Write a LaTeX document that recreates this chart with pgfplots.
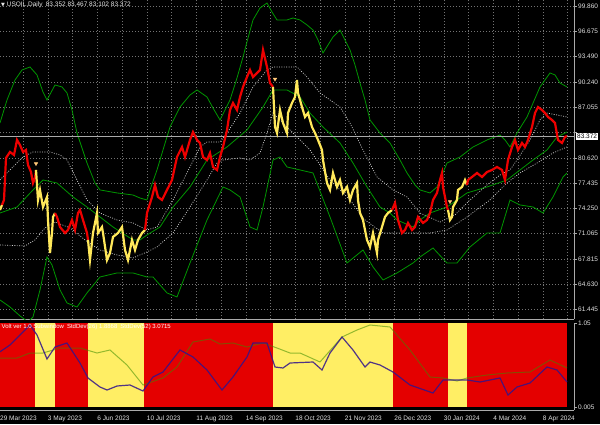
\documentclass[border=0pt]{standalone}
\usepackage{fontspec}
\setmainfont{Liberation Sans}
\newfontfamily\symfont{DejaVu Sans}
\usepackage{pgfplots}
\pgfplotsset{compat=1.18}

\definecolor{cred}{RGB}{238,0,0}
\definecolor{cyel}{RGB}{255,232,90}
\definecolor{bred}{RGB}{228,0,0}
\definecolor{byel}{RGB}{255,238,100}
\definecolor{bandg}{RGB}{0,150,0}
\definecolor{gridc}{RGB}{115,115,115}
\definecolor{axc}{RGB}{170,170,170}
\definecolor{sigc}{RGB}{255,200,120}
\definecolor{sblue}{RGB}{50,20,140}
\definecolor{sgreen}{RGB}{60,140,0}

\begin{document}
\begin{tikzpicture}[x=1pt,y=1pt]
\useasboundingbox (0,0) rectangle (600,424);
\fill[black] (0,0) rectangle (600,424);

% ---------- price window ----------
\begin{axis}[
    at={(0pt,105pt)}, anchor=south west,
    scale only axis, width=574pt, height=319pt,
    xmin=0, xmax=574, ymin=60.23, ymax=100.62,
    clip mode=individual,
    axis x line*=bottom, axis y line*=right,
    axis line style={-, draw=axc},
    xtick={23,47.75,...,568}, xticklabels={},
    xtick style={draw=none},
    ytick={61.445,64.630,67.815,71.065,74.250,77.435,80.620,83.870,87.055,90.240,93.490,96.675,99.860},
    yticklabels={61.445,64.630,67.815,71.065,74.250,77.435,80.620,,87.055,90.240,93.490,96.675,99.860},
    ytick style={draw=axc}, major tick length=2.5pt, tick align=outside,
    grid=major,
    major grid style={gridc, dash pattern=on 1pt off 2pt, line width=0.45pt},
    yticklabel style={font=\fontsize{6.5}{7}\selectfont, text=white!88!black, inner xsep=1.5pt},
    /pgf/number format/assume math mode=true,
]
% outer band (upper)
\addplot[bandg, line width=0.8pt] coordinates {
(0,85.05) (7,87.96) (15,90.49) (22,91.76) (30,92.14) (37,91.13) (43,88.97) (47,87.96)
(55,89.86) (62,89.61) (67,88.85) (72,86.69) (77,83.78) (87,79.98) (95,77.45) (100,76.57)
(117,76.19) (133,75.93) (140,75.55) (147,75.30) (150,76.57) (157,79.10) (163,81.63)
(170,84.54) (180,87.07) (190,88.59) (197,89.23) (207,88.34) (213,86.95) (220,85.43)
(225,86.69) (230,87.96) (237,90.75) (243,93.40) (248,95.81) (253,98.09) (260,99.61)
(267,100.24) (272,99.10) (277,98.09) (287,98.09) (293,98.34) (300,98.09) (307,97.46)
(313,96.82) (318,95.56) (323,93.91) (328,94.92) (333,95.94) (340,96.82) (345,95.56)
(350,94.29) (355,92.39) (360,90.11) (365,87.96) (370,85.43) (380,83.78) (390,82.52)
(400,80.36) (407,78.72) (415,77.20) (420,76.57) (430,76.19) (437,76.95) (447,79.98)
(460,80.74) (473,82.01) (487,82.90) (500,83.53) (505,82.90) (510,82.01) (517,83.78)
(527,85.81) (540,89.61) (550,91.38) (555,91.13) (560,90.11) (567,89.61)};
% middle line
\addplot[bandg, line width=0.8pt] coordinates {
(0,73.65) (17,74.41) (33,76.57) (43,77.83) (57,77.45) (73,75.68) (87,74.41) (100,73.15)
(113,71.88) (133,70.24) (140,70.24) (147,70.87) (160,71.88) (173,74.41) (190,76.95)
(207,80.36) (227,82.01) (247,84.16) (263,87.07) (273,89.23) (287,89.23) (300,88.34)
(310,86.31) (323,84.54) (340,82.52) (353,79.98) (367,76.95) (380,74.41) (390,73.65)
(397,72.77) (413,71.88) (420,72.77) (430,73.65) (447,74.41) (467,76.19) (487,76.95)
(507,77.83) (520,79.10) (533,80.36) (547,81.63) (557,83.28) (567,83.91)};
% outer band (lower)
\addplot[bandg, line width=0.8pt] coordinates {
(0,62.64) (10,61.75) (20,60.62) (28,59.86) (33,60.49) (40,63.91) (47,68.08) (52,67.07)
(60,63.91) (67,62.26) (77,61.75) (87,63.53) (100,65.55) (117,66.06) (133,66.06)
(147,65.55) (153,65.55) (167,63.53) (177,63.02) (190,67.32) (207,72.77) (223,76.95)
(230,76.57) (240,75.68) (250,71.88) (257,71.50) (263,74.41) (273,80.36) (280,80.74)
(287,79.48) (313,78.72) (330,73.15) (347,67.32) (363,68.97) (373,66.82) (383,65.17)
(397,66.06) (413,67.32) (420,68.08) (433,69.22) (447,67.32) (457,67.32) (470,69.35)
(487,71.12) (500,71.12) (510,75.30) (520,74.67) (533,74.41) (543,73.65) (553,75.68)
(563,78.21) (567,78.72)};
% inner dotted bands
\addplot[white!82!black, line width=0.7pt, dash pattern=on 0.9pt off 1.5pt] coordinates {
(0,77.83) (13,79.48) (23,80.74) (33,81.38) (50,81.38) (60,81.00) (67,80.36) (77,77.83)
(87,75.30) (100,73.65) (117,72.77) (133,72.39) (147,71.50) (157,71.88) (173,75.30)
(190,79.48) (200,82.01) (207,82.64) (220,82.64) (227,83.78) (240,86.31) (253,89.61)
(267,91.76) (273,92.14) (287,92.14) (297,92.14) (307,90.87) (320,88.85) (340,87.07)
(350,85.05) (363,81.63) (377,78.21) (393,76.57) (407,75.68) (420,73.65) (440,72.51)
(455,73.40) (470,75.30) (487,77.20) (500,78.46) (510,79.10) (517,80.36) (530,82.90)
(540,85.43) (547,86.31) (557,86.06) (567,85.81)};
\addplot[white!82!black, line width=0.7pt, dash pattern=on 0.9pt off 1.5pt] coordinates {
(0,69.60) (25,69.48) (35,70.24) (45,71.76) (55,72.51) (70,71.76) (85,70.24) (100,68.97)
(117,68.34) (133,67.96) (147,68.72) (157,69.35) (173,71.12) (190,74.41) (207,77.83)
(217,79.98) (223,80.36) (240,80.62) (250,80.36) (260,81.25) (267,83.78) (273,86.31)
(290,84.16) (310,81.63) (330,77.83) (350,75.30) (365,72.77) (383,71.12) (397,71.12)
(430,71.12) (447,71.50) (467,73.15) (490,75.30) (507,77.45) (520,78.72) (537,79.98)
(553,81.25) (567,82.01)};
% current price line
\addplot[axc, line width=0.5pt] coordinates {(0,83.372) (574,83.372)};
% price, coloured by regime
\addplot[cyel, line width=2.2pt] coordinates {(0,74.03) (2,74.67)};
\addplot[cred, line width=2.2pt] coordinates {
(2,74.67) (4,75.30) (6,80.62) (10,81.38) (14,81.00) (17,82.90) (20,82.26) (23,81.38)
(26,81.63) (28,79.73) (31,78.84) (33,77.45) (35,78.09) (36,79.10)};
\addplot[cyel, line width=2.2pt] coordinates {
(36,79.10) (38,75.30) (40,76.57) (43,74.41) (47,75.68) (48,72.77) (50,68.59) (52,71.12)
(53,73.15) (55,73.65)};
\addplot[cred, line width=2.2pt] coordinates {
(55,73.65) (57,73.15) (60,71.88) (65,71.12) (68,71.50) (72,72.77) (75,71.50) (78,73.65)
(80,74.03) (83,72.77) (87,71.12) (88,70.24)};
\addplot[cyel, line width=2.2pt] coordinates {
(88,70.24) (90,67.70) (93,71.12) (97,73.65) (98,71.12) (102,71.88) (103,71.12) (107,67.70)
(110,68.59) (113,70.62) (118,71.12) (122,71.88) (125,68.97) (128,67.70) (132,70.24)
(135,68.97) (138,70.24) (142,71.12) (145,71.50)};
\addplot[cred, line width=2.2pt] coordinates {
(145,71.50) (147,73.65) (152,75.68) (155,77.20) (158,75.68) (162,75.30) (167,76.57)
(172,77.83) (177,80.74) (182,82.01) (185,80.74) (190,82.90) (193,83.91) (197,82.90)
(200,82.52) (203,80.74) (207,80.36) (210,81.25) (213,79.48) (217,79.10) (220,80.74)
(223,82.01) (227,84.16) (230,86.69) (233,87.58) (237,86.69) (240,88.34) (243,89.61)
(247,90.87) (250,91.76) (253,90.87) (257,91.38) (260,91.76) (263,94.29) (267,92.14)
(270,90.11) (273,89.61)};
\addplot[cyel, line width=2.2pt] coordinates {
(273,89.61) (275,84.54) (277,83.78) (280,86.69) (283,85.05) (287,83.78) (288,86.31)
(292,87.58) (295,88.34) (297,90.49) (298,88.85) (302,87.07) (305,85.81) (308,86.31)
(312,84.54) (315,83.78) (318,82.90) (322,81.63) (323,80.36) (327,77.45) (330,76.57)
(333,78.72) (337,76.95) (340,77.83) (343,76.19) (347,76.95) (350,75.30) (353,76.57)
(357,77.45) (358,75.30) (360,73.65) (363,72.77) (367,70.24) (370,69.35) (373,71.12)
(377,68.59) (378,70.24) (382,71.88) (385,73.15) (388,73.65) (392,74.03)};
\addplot[cred, line width=2.2pt] coordinates {
(392,74.03) (395,74.92) (398,72.77) (402,71.12) (405,71.50) (408,72.39) (412,71.50)
(415,71.88) (418,73.15) (423,72.39) (427,72.77) (430,73.65) (433,75.30) (437,76.19)
(440,77.83) (442,78.72) (443,76.95) (445,75.68) (447,74.41) (448,74.03)};
\addplot[cyel, line width=2.2pt] coordinates {
(448,74.03) (450,72.77) (452,73.15) (453,74.41) (457,75.30) (458,76.57) (462,76.95)
(465,77.83) (467,77.20)};
\addplot[cred, line width=2.2pt] coordinates {
(467,77.20) (468,77.83) (472,78.21) (477,78.72) (482,78.21) (487,78.84) (492,79.10)
(497,79.48) (502,79.10) (505,77.83) (508,80.36) (512,82.01) (515,82.90) (518,81.63)
(522,82.52) (525,82.01) (528,82.90) (532,84.54) (535,86.31) (538,87.07) (542,86.69)
(545,86.31) (548,85.81) (552,85.43) (555,85.05) (558,82.90) (562,82.52) (565,83.28)
(567,83.40)};
% signal arrows
\addplot[only marks, mark=triangle*, mark size=2pt,
    mark options={rotate=180, fill=sigc, draw=sigc}] coordinates {
(36,79.90) (275,90.60) (450,75.10)};
\node[anchor=west, fill=white, text=black, inner sep=1pt,
    font=\fontsize{6.5}{7}\selectfont] at (axis cs:576,83.372) {83.372};
\end{axis}

% ---------- subwindow ----------
\begin{axis}[
    at={(0pt,14pt)}, anchor=south west,
    scale only axis, width=574pt, height=87pt,
    xmin=0, xmax=574, ymin=-0.0375, ymax=1.05,
    clip mode=individual,
    axis x line*=bottom, axis y line*=right,
    axis line style={-, draw=axc},
    xtick={0,47.75,97.25,146.75,196.25,245.75,295.25,344.75,394.25,443.75,493.25,542.75},
    xticklabels={29 Mar 2023,3 May 2023,6 Jun 2023,10 Jul 2023,11 Aug 2023,14 Sep 2023,
        18 Oct 2023,21 Nov 2023,26 Dec 2023,30 Jan 2024,4 Mar 2024,8 Apr 2024},
    xticklabel style={font=\fontsize{6.5}{7}\selectfont, text=white!88!black,
        anchor=north west, inner sep=0pt, yshift=-3pt},
    xtick style={draw=none},
    ytick={0,1.05}, yticklabels={0.005,1.05},
    ytick style={draw=axc}, major tick length=2.5pt, tick align=outside,
    yticklabel style={font=\fontsize{6.5}{7}\selectfont, text=white!88!black, inner xsep=1.5pt},
]
\addplot[fill=bred, draw=none] coordinates {(0,1.05) (35,1.05)} \closedcycle;
\addplot[fill=byel, draw=none] coordinates {(35,1.05) (55,1.05)} \closedcycle;
\addplot[fill=bred, draw=none] coordinates {(55,1.05) (88,1.05)} \closedcycle;
\addplot[fill=byel, draw=none] coordinates {(88,1.05) (144,1.05)} \closedcycle;
\addplot[fill=bred, draw=none] coordinates {(144,1.05) (273,1.05)} \closedcycle;
\addplot[fill=byel, draw=none] coordinates {(273,1.05) (393,1.05)} \closedcycle;
\addplot[fill=bred, draw=none] coordinates {(393,1.05) (448,1.05)} \closedcycle;
\addplot[fill=byel, draw=none] coordinates {(448,1.05) (467,1.05)} \closedcycle;
\addplot[fill=bred, draw=none] coordinates {(467,1.05) (567,1.05)} \closedcycle;
% StdDev(52)
\addplot[sgreen, opacity=0.55, line width=1pt] coordinates {
(0,0.6125) (17,0.6125) (30,0.675) (43,0.675) (60,0.7375) (80,0.7375) (97,0.675)
(110,0.7125) (127,0.525) (143,0.275) (163,0.3625) (177,0.50) (193,0.8125) (210,0.85)
(220,0.7875) (233,0.80) (247,0.75) (263,0.80) (277,0.7375) (290,0.675) (300,0.675)
(320,0.5625) (342,0.875) (357,0.9625) (370,1.025) (390,1.00) (410,0.7125) (430,0.375)
(443,0.3625) (457,0.325) (467,0.3625) (487,0.40) (507,0.425) (530,0.4375) (550,0.5875)
(567,0.4875)};
% StdDev(26)
\addplot[sblue, opacity=0.85, line width=1.2pt] coordinates {
(0,0.69) (10,0.775) (20,0.90) (30,1.025) (37,0.90) (47,0.60) (55,0.75) (67,0.80)
(80,0.55) (88,0.3625) (100,0.25) (107,0.2125) (117,0.2625) (130,0.275) (143,0.20)
(153,0.375) (163,0.4375) (180,0.7125) (193,0.625) (207,0.4625) (222,0.2125) (233,0.375)
(247,0.625) (253,0.80) (267,0.80) (275,0.50) (283,0.4875) (290,0.55) (313,0.5625)
(322,0.4625) (330,0.675) (342,0.875) (353,0.7125) (365,0.50) (370,0.5625) (380,0.525)
(393,0.4375) (410,0.275) (433,0.175) (443,0.3375) (457,0.3375) (467,0.3375)
(480,0.3125) (500,0.3625) (508,0.15) (517,0.25) (530,0.30) (547,0.50) (557,0.4625)
(567,0.3125)};
\node[anchor=north west, text=white, inner sep=0.5pt,
    font=\fontsize{6}{7}\selectfont] at (axis cs:1,1.05)
    {Volt ver 1.0 Subwindow\enspace StdDev(26) 1.8868\enspace StdDev(52) 3.0715};
\end{axis}

\node[anchor=west, text=white!90!black, inner sep=0pt,
    font=\fontsize{6.5}{7}\selectfont] at (1,419)
    {{\symfont\fontsize{5}{6}\selectfont ▼} USOIL,Daily\enspace 83.352 83.467 83.102 83.372};
\end{tikzpicture}
\end{document}
